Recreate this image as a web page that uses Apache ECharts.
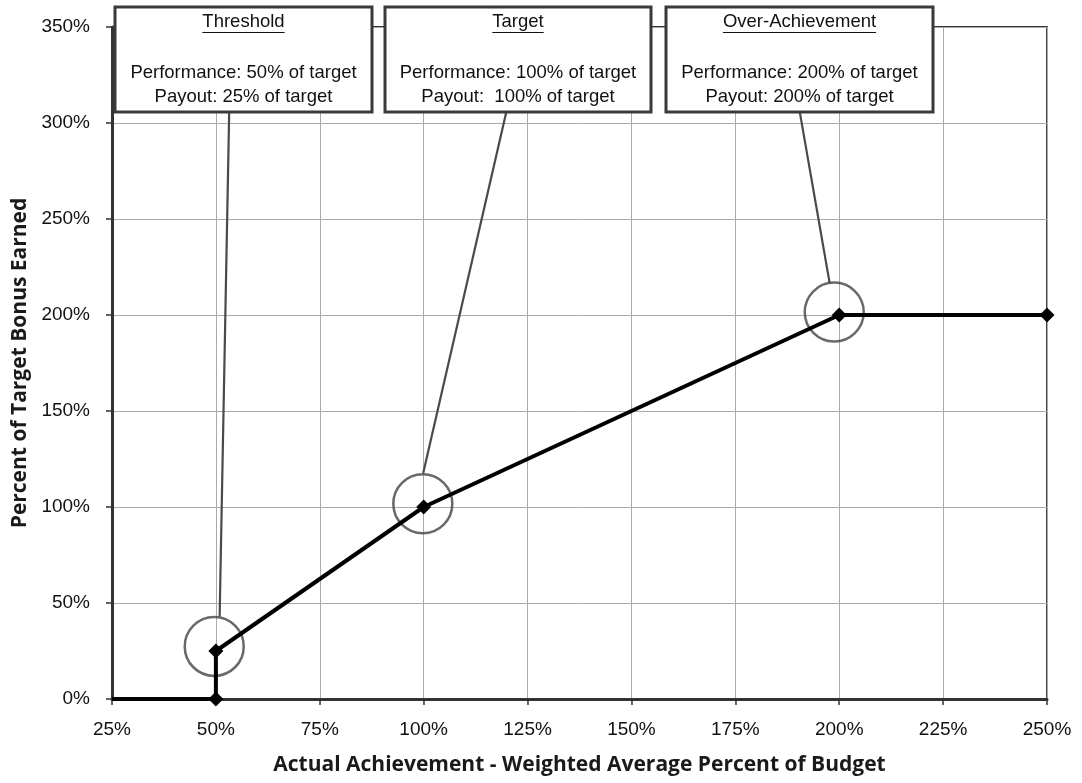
<!DOCTYPE html>
<html>
<head>
<meta charset="utf-8">
<script src="https://cdn.jsdelivr.net/npm/echarts@6/dist/echarts.min.js"></script>
<style>
html,body{margin:0;padding:0;background:#fff;}
#chart{width:1082px;height:783px;}
</style>
</head>
<body>
<div id="chart"></div>
<script>
// ---- data ----
const achievement = [25, 50, 50, 100, 200, 250];
const payout = [0, 0, 25, 100, 200, 200];
const highlightPoints = [[49.6, 27.4], [99.8, 101.7], [198.8, 201.5]];
const annoTitles = ['Threshold', 'Target', 'Over-Achievement'];
const annoPerformance = ['Performance: 50% of target', 'Performance: 100% of target', 'Performance: 200% of target'];
const annoPayout = ['Payout: 25% of target', 'Payout:  100% of target', 'Payout: 200% of target'];
const leaderStart = [[53.2, 305.8], [119.9, 305.8], [190.5, 305.8]];
const leaderEnd = [[50.9, 42.8], [99.9, 117.7], [197.7, 216.6]];
const xTicks = [25, 250, 25]; // min, max, interval
const yTicks = [0, 350, 50];

const chart = echarts.init(document.getElementById('chart'), null, {renderer: 'canvas'});
const tickFont = '"Liberation Sans", Arial, sans-serif';
const titleFont = '"Open Sans", "Noto Sans", sans-serif';

const mainData = achievement.map((x, i) => {
  const d = {value: [x, payout[i]]};
  if (i === 0) d.symbol = 'none';
  return d;
});

const series = [];
leaderStart.forEach((s, i) => {
  series.push({
    type: 'line', data: [s, leaderEnd[i]], showSymbol: false, symbol: 'none',
    lineStyle: {color: '#4a4a4a', width: 2.2}, silent: true, z: 2, animation: false
  });
});
series.push({
  type: 'scatter', data: highlightPoints, symbol: 'circle', symbolSize: 59,
  itemStyle: {color: 'rgba(0,0,0,0)', borderColor: '#444', borderWidth: 2.5},
  z: 3, silent: true, animation: false
});
series.push({
  type: 'line', data: mainData, symbol: 'diamond', symbolSize: 15,
  lineStyle: {color: '#000', width: 4}, itemStyle: {color: '#000'},
  z: 5, animation: false
});

chart.setOption({
  backgroundColor: '#fff',
  animation: false,
  grid: {left: 112, right: 35, top: 27, bottom: 84, show: true, borderColor: '#333', borderWidth: 1.8},
  xAxis: {
    type: 'value', min: xTicks[0], max: xTicks[1], interval: xTicks[2],
    name: 'Actual Achievement - Weighted Average Percent of Budget',
    nameLocation: 'middle', nameGap: 56,
    nameTextStyle: {fontFamily: titleFont, fontWeight: 'bold', fontSize: 21, color: '#1a1a1a'},
    axisLine: {show: true, onZero: false, lineStyle: {color: '#333', width: 3}},
    axisTick: {show: true, length: 6, lineStyle: {color: '#333', width: 1.5}},
    axisLabel: {formatter: '{value}%', fontFamily: tickFont, fontSize: 19, color: '#111', margin: 21},
    splitLine: {show: true, lineStyle: {color: '#aaa', width: 1}}
  },
  yAxis: {
    type: 'value', min: yTicks[0], max: yTicks[1], interval: yTicks[2],
    name: 'Percent of Target Bonus Earned',
    nameLocation: 'middle', nameGap: 76,
    nameTextStyle: {fontFamily: titleFont, fontWeight: 'bold', fontSize: 21, color: '#1a1a1a'},
    axisLine: {show: true, lineStyle: {color: '#333', width: 3}},
    axisTick: {show: true, length: 6, lineStyle: {color: '#333', width: 1.5}},
    axisLabel: {formatter: '{value}%', fontFamily: tickFont, fontSize: 19, color: '#111', margin: 22},
    splitLine: {show: true, lineStyle: {color: '#aaa', width: 1}}
  },
  series: series
});

// annotation boxes (layout)
const boxLayout = [
  {left: 115, right: 372},
  {left: 385, right: 651},
  {left: 666, right: 933}
];
const boxTop = 7, boxBottom = 112;
const annoFont = '18.5px "Liberation Sans", Arial, sans-serif';
const mctx = document.createElement('canvas').getContext('2d');
mctx.font = annoFont;
const graphics = [];
boxLayout.forEach((b, i) => {
  const cx = (b.left + b.right) / 2;
  const tw = mctx.measureText(annoTitles[i]).width;
  graphics.push({
    type: 'rect', z: 100,
    shape: {x: b.left, y: boxTop, width: b.right - b.left, height: boxBottom - boxTop},
    style: {fill: '#fff', stroke: '#3a3a3a', lineWidth: 3}
  });
  graphics.push({type: 'text', z: 101, x: cx, y: 21.5,
    style: {text: annoTitles[i], font: annoFont, fill: '#111', align: 'center', verticalAlign: 'middle'}});
  graphics.push({type: 'line', z: 101,
    shape: {x1: cx - tw / 2, y1: 32.5, x2: cx + tw / 2, y2: 32.5},
    style: {stroke: '#111', lineWidth: 1.2}});
  graphics.push({type: 'text', z: 101, x: cx, y: 73,
    style: {text: annoPerformance[i], font: annoFont, fill: '#111', align: 'center', verticalAlign: 'middle'}});
  graphics.push({type: 'text', z: 101, x: cx, y: 97,
    style: {text: annoPayout[i], font: annoFont, fill: '#111', align: 'center', verticalAlign: 'middle'}});
});
chart.setOption({graphic: graphics});
</script>
</body>
</html>
